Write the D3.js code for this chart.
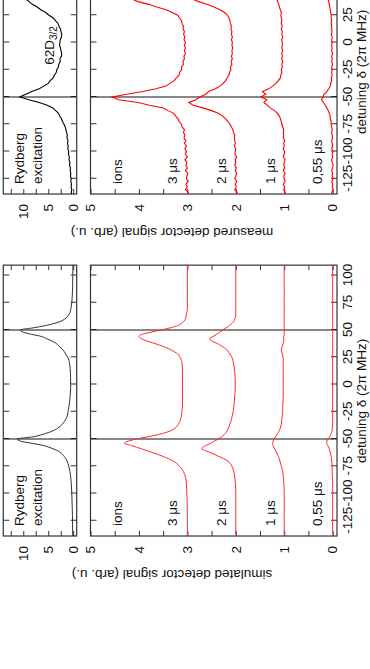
<!DOCTYPE html>
<html>
<head>
<meta charset="utf-8">
<script src="https://cdn.jsdelivr.net/npm/d3@7"></script>
<style>
  body { margin: 0; background: #fff; }
  svg { display: block; font-family: "Liberation Sans", Arial, sans-serif; }
</style>
</head>
<body>
<svg width="370" height="669"></svg>
<script>
// ---- simulated traces (smooth) ----
const simDetuning = [-140, -120, -100, -90, -80, -75, -70, -66, -62, -59, -56, -54, -52, -50, -48, -46, -44, -42, -40, -36,
    -32, -28, -24, -20, -10, 0, 10, 20, 24, 28, 32, 35, 38, 40, 42, 44, 46, 48, 50, 52, 54, 56, 58, 60, 64, 70, 80, 90, 100, 110];
const simRydberg = [0.1, 0.15, 0.28, 0.4, 0.65, 0.9, 1.25, 1.8, 2.7, 4.0, 6.0, 8.2, 10.5, 11.2, 8.0, 6.3, 4.9, 3.8, 3.1, 2.1,
    1.5, 1.15, 1.0, 0.85, 0.6, 0.5, 0.55, 0.75, 1.0, 1.5, 2.1, 2.8, 3.5, 4.3, 5.3, 6.3, 8.3, 10.0, 10.6, 8.0,
    5.6, 3.8, 2.5, 1.7, 0.9, 0.45, 0.2, 0.12, 0.08, 0.05];
const sim3us = [3.0, 3.0, 3.01, 3.02, 3.08, 3.16, 3.3, 3.5, 3.75, 3.95, 4.15, 4.3, 4.22, 4.05, 3.82, 3.6, 3.44, 3.32, 3.25, 3.18,
    3.14, 3.12, 3.11, 3.1, 3.1, 3.1, 3.1, 3.11, 3.14, 3.2, 3.35, 3.5, 3.7, 3.84, 3.95, 4.0, 3.94, 3.75, 3.55, 3.35,
    3.2, 3.12, 3.07, 3.04, 3.02, 3.0, 3.0, 3.0, 3.0, 3.0];
const sim2us = [2.0, 2.0, 2.0, 2.01, 2.04, 2.08, 2.17, 2.35, 2.55, 2.7, 2.62, 2.52, 2.44, 2.36, 2.29, 2.24, 2.2, 2.17, 2.15, 2.12,
    2.09, 2.07, 2.05, 2.04, 2.02, 2.01, 2.02, 2.05, 2.07, 2.12, 2.19, 2.28, 2.4, 2.5, 2.54, 2.47, 2.4, 2.33, 2.27, 2.2,
    2.13, 2.08, 2.04, 2.02, 2.0, 2.0, 2.0, 2.0, 2.0, 2.0];
const sim1us = [1.0, 1.0, 1.0, 1.01, 1.03, 1.06, 1.09, 1.12, 1.16, 1.2, 1.23, 1.24, 1.23, 1.21, 1.18, 1.15, 1.12, 1.1, 1.08, 1.06,
    1.05, 1.04, 1.03, 1.03, 1.02, 1.02, 1.02, 1.02, 1.02, 1.04, 1.06, 1.04, 1.02, 1.01, 1.01, 1.01, 1.0, 1.0, 1.0, 1.0,
    1.0, 1.0, 1.0, 1.0, 1.0, 1.0, 1.0, 1.0, 1.0, 1.0];
const sim055us = [0, 0, 0, 0, 0.01, 0.01, 0.02, 0.03, 0.05, 0.07, 0.1, 0.12, 0.12, 0.1, 0.06, 0.04, 0.02, 0.01, 0.01, 0,
    0, 0, 0, 0, 0, 0, 0, 0, 0, 0, 0, 0, 0, 0, 0, 0, 0, 0, 0, 0,
    0, 0, 0, 0, 0, 0, 0, 0, 0, 0];

const measDetuning = [-140, -137.5, -135, -132.5, -130, -127.5, -125, -122.5, -120, -117.5, -115, -112.5, -110, -107.5, -105, -102.5,
    -100, -97.5, -95, -92.5, -90, -87.5, -85, -82.5, -80, -77.5, -75, -72.5, -70, -67.5, -65, -62.5, -60, -57.5, -55, -52.5,
    -50, -47.5, -45, -42.5, -40, -37.5, -35, -32.5, -30, -27.5, -25, -22.5, -20, -17.5, -15, -12.5, -10, -7.5, -5, -2.5,
    0, 2.5, 5, 7.5, 10, 12.5, 15, 17.5, 20, 22.5, 25, 27.5, 30, 32.5, 35, 37.5, 40];
const measRydberg = [0.3, 0.38, 0.28, 0.42, 0.35, 0.48, 0.4, 0.55, 0.47, 0.62, 0.56, 0.74, 0.66, 0.85, 0.78, 0.95,
    0.9, 1.08, 1.0, 1.15, 1.05, 1.25, 1.18, 1.35, 1.45, 1.6, 1.85, 2.15, 2.35, 2.7, 2.95, 3.5, 4.1, 5.2, 6.8, 8.9,
    10.7, 9.5, 8.3, 6.8, 5.9, 5.0, 4.6, 4.0, 3.8, 3.4, 3.3, 2.95, 2.9, 2.6, 2.65, 2.35, 2.3, 2.45, 2.55, 2.75,
    2.65, 2.6, 2.35, 2.3, 2.45, 2.55, 2.85, 3.05, 3.55, 4.0, 4.85, 5.5, 6.5, 7.2, 8.2, 8.8, 9.6];
const meas3us = [3.02, 2.98, 3.04, 3.0, 3.03, 2.98, 3.02, 3.01, 2.99, 3.04, 3.0, 3.03, 3.01, 3.05, 3.0, 3.04,
    3.02, 3.05, 3.02, 3.06, 3.03, 3.07, 3.05, 3.08, 3.06, 3.11, 3.12, 3.17, 3.19, 3.24, 3.28, 3.4, 3.5, 3.78, 4.02, 4.42,
    4.55, 4.25, 3.92, 3.65, 3.44, 3.36, 3.27, 3.23, 3.17, 3.16, 3.12, 3.12, 3.08, 3.09, 3.06, 3.07, 3.04, 3.06, 3.04, 3.06,
    3.04, 3.07, 3.05, 3.08, 3.06, 3.09, 3.08, 3.11, 3.12, 3.16, 3.2, 3.31, 3.44, 3.63, 3.8, 4.02, 4.15];
const meas2us = [2.0, 1.97, 2.02, 1.99, 2.01, 1.98, 2.02, 2.0, 1.98, 2.01, 1.99, 2.02, 2.0, 2.01, 1.98, 2.02,
    2.01, 2.0, 2.03, 2.01, 2.02, 2.03, 2.02, 2.05, 2.06, 2.09, 2.12, 2.16, 2.21, 2.27, 2.36, 2.5, 2.68, 2.88, 2.97, 2.82,
    2.75, 2.62, 2.56, 2.42, 2.33, 2.26, 2.21, 2.18, 2.14, 2.13, 2.1, 2.11, 2.08, 2.1, 2.07, 2.09, 2.07, 2.08, 2.06, 2.08,
    2.07, 2.09, 2.07, 2.09, 2.08, 2.1, 2.09, 2.11, 2.12, 2.14, 2.17, 2.23, 2.33, 2.45, 2.6, 2.77, 2.9];
const meas1us = [1.0, 0.98, 1.01, 0.99, 1.02, 0.98, 1.0, 1.01, 0.98, 1.02, 0.99, 1.01, 1.0, 0.98, 1.02, 1.0,
    0.99, 1.02, 1.0, 1.01, 0.99, 1.02, 1.01, 1.02, 1.01, 1.03, 1.05, 1.06, 1.08, 1.1, 1.14, 1.2, 1.29, 1.35, 1.42, 1.36,
    1.48, 1.38, 1.45, 1.32, 1.24, 1.17, 1.12, 1.08, 1.07, 1.05, 1.06, 1.04, 1.05, 1.03, 1.05, 1.04, 1.05, 1.03, 1.05, 1.04,
    1.04, 1.05, 1.03, 1.05, 1.04, 1.06, 1.04, 1.06, 1.05, 1.06, 1.07, 1.06, 1.08, 1.1, 1.11, 1.14, 1.15];
const meas055us = [0.0, 0.02, -0.01, 0.01, 0.0, 0.02, -0.01, 0.01, 0.0, 0.02, 0.0, -0.01, 0.01, 0.02, 0.0, 0.01,
    -0.01, 0.02, 0.0, 0.01, 0.02, 0.0, 0.01, 0.02, 0.01, 0.02, 0.03, 0.03, 0.05, 0.05, 0.07, 0.09, 0.12, 0.15, 0.19, 0.23,
    0.2, 0.18, 0.12, 0.08, 0.05, 0.04, 0.02, 0.03, 0.01, 0.02, 0.01, 0.02, 0.0, 0.02, 0.01, 0.02, 0.0, 0.02, 0.01, 0.02,
    0.01, 0.02, 0.01, 0.03, 0.01, 0.02, 0.02, 0.03, 0.02, 0.03, 0.03, 0.04, 0.05, 0.06, 0.07, 0.08, 0.1];

// ---- axes / labels ----
const detuningTicks = [-125, -100, -75, -50, -25, 0, 25, 50, 75, 100];
const markerLines = [-50, 50];
const rydTicks = [0, 2.5, 5, 7.5, 10, 12.5];
const ionTicks = [0, 0.5, 1, 1.5, 2, 2.5, 3, 3.5, 4, 4.5, 5];
const seriesLabels = ['3 μs', '2 μs', '1 μs', '0,55 μs'];

const svg = d3.select('svg');
const pxPerMHz = 1.09;
const detDomain = [-139, 109.5];
const fontSize = 13.5;

// everything is drawn in the un-rotated frame and then turned 90 degrees
const xScale = d3.scaleLinear().domain(detDomain).range(detDomain.map(d => d * pxPerMHz));
const yRyd = d3.scaleLinear().domain([-0.7, 14]).range([76.7, 3.3]);
const yIon = d3.scaleLinear().domain([-0.09, 5.0]).range([337, 90.5]);
const x0 = xScale(detDomain[0]);
const x1 = xScale(detDomain[1]);

function drawPanel(g, id, yScale, detLabelMax, tickFmt) {
    const top = yScale.range()[1];
    const bottom = yScale.range()[0];

    g.append('clipPath').attr('id', id)
        .append('rect')
        .attr('x', x0).attr('y', top)
        .attr('width', x1 - x0).attr('height', bottom - top);

    const styleAxis = sel => {
        sel.select('.domain').remove();
        sel.selectAll('line').attr('stroke', '#333');
        sel.attr('font-size', fontSize).attr('font-family', null);
        sel.selectAll('text').attr('fill', '#111');
    };

    // detuning ticks (both edges); labels only below the ions panel
    g.append('g')
        .attr('transform', `translate(0, ${bottom})`)
        .call(d3.axisBottom(xScale).tickValues(detuningTicks).tickSizeInner(-6).tickSizeOuter(0)
            .tickPadding(5).tickFormat(d => (d <= detLabelMax ? d : '')))
        .call(styleAxis);
    g.append('g')
        .attr('transform', `translate(0, ${top})`)
        .call(d3.axisTop(xScale).tickValues(detuningTicks).tickSizeInner(-6).tickSizeOuter(0).tickFormat(''))
        .call(styleAxis);

    // signal ticks (both edges)
    const sTicks = yScale === yRyd ? rydTicks : ionTicks;
    g.append('g')
        .attr('transform', `translate(${x0}, 0)`)
        .call(d3.axisLeft(yScale).tickValues(sTicks)
            .tickSizeInner(-5).tickSizeOuter(0).tickPadding(10).tickFormat(tickFmt))
        .call(styleAxis);
    g.append('g')
        .attr('transform', `translate(${x1}, 0)`)
        .call(d3.axisRight(yScale).tickValues(sTicks)
            .tickSizeInner(-5).tickSizeOuter(0).tickFormat(''))
        .call(styleAxis);

    // resonance markers at +-50 MHz
    g.selectAll(null)
        .data(markerLines)
        .join('line')
        .attr('x1', d => xScale(d)).attr('x2', d => xScale(d))
        .attr('y1', top).attr('y2', bottom)
        .attr('stroke', '#111')
        .attr('stroke-width', 1.2);

    // frame
    g.append('rect')
        .attr('x', x0).attr('y', top)
        .attr('width', x1 - x0).attr('height', bottom - top)
        .attr('fill', 'none')
        .attr('stroke', '#333')
        .attr('stroke-width', 1.2);
}

function drawFigure(cfg) {
    const g = svg.append('g').attr('transform', `translate(0, ${cfg.offset}) rotate(-90)`);

    drawPanel(g, cfg.id + '-ryd', yRyd, -Infinity, d => (d % 5 === 0 ? d : ''));
    drawPanel(g, cfg.id + '-ion', yIon, cfg.detLabelMax, d => (Number.isInteger(d) ? d : ''));

    const rydLine = d3.line()
        .x(d => xScale(d[0]))
        .y(d => yRyd(d[1]))
        .curve(cfg.curve);
    const ionLine = d3.line()
        .x(d => xScale(d[0]))
        .y(d => yIon(d[1]))
        .curve(cfg.curve);

    g.append('path')
        .datum(d3.zip(cfg.detuning, cfg.rydberg))
        .attr('clip-path', `url(#${cfg.id}-ryd)`)
        .attr('d', rydLine)
        .attr('fill', 'none')
        .attr('stroke', cfg.rydColor)
        .attr('stroke-width', cfg.width);

    g.selectAll(null)
        .data(cfg.ions)
        .join('path')
        .attr('clip-path', `url(#${cfg.id}-ion)`)
        .attr('d', s => ionLine(d3.zip(cfg.detuning, s)))
        .attr('fill', 'none')
        .attr('stroke', cfg.ionColor)
        .attr('stroke-width', cfg.width);

    // in-panel texts
    const tx = x0 + 10;
    const note = g.append('g').attr('font-size', fontSize).attr('fill', '#111');
    note.append('text').attr('x', tx).attr('y', 23.5).text('Rydberg');
    note.append('text').attr('x', tx).attr('y', 41.5).text('excitation');
    note.append('text').attr('x', tx).attr('y', 121.5).text('ions');
    const labelBaselines = [176.5, 226, 274.5, 321.5];
    note.selectAll(null)
        .data(seriesLabels)
        .join('text')
        .attr('x', tx)
        .attr('y', (d, i) => labelBaselines[i])
        .text(d => d);

    if (cfg.stateLabel) {
        const t = note.append('text').attr('x', xScale(-20.5)).attr('y', 53.5);
        t.append('tspan').text('62D');
        t.append('tspan').attr('font-size', 10).attr('dy', 3).text('3/2');
    }

    // axis titles
    g.append('text')
        .attr('transform', `translate(${x0 - 38}, 172) rotate(-90)`)
        .attr('text-anchor', 'middle')
        .attr('dominant-baseline', 'central')
        .attr('font-size', fontSize)
        .attr('fill', '#111')
        .text(cfg.title);
    g.append('text')
        .attr('x', xScale(cfg.detTitleAt))
        .attr('y', 361)
        .attr('text-anchor', 'middle')
        .attr('dominant-baseline', 'central')
        .attr('font-size', fontSize)
        .attr('fill', '#111')
        .text('detuning δ (2π MHz)');
}

drawFigure({
    id: 'meas',
    offset: 42.5,
    title: 'measured detector signal (arb. u.)',
    detuning: measDetuning,
    rydberg: measRydberg,
    ions: [meas3us, meas2us, meas1us, meas055us],
    curve: d3.curveLinear,
    rydColor: '#000',
    ionColor: '#ff0000',
    width: 1.1,
    detLabelMax: 25,
    detTitleAt: -27,
    stateLabel: true
});

drawFigure({
    id: 'sim',
    offset: 384.5,
    title: 'simulated detector signal (arb. u.)',
    detuning: simDetuning,
    rydberg: simRydberg,
    ions: [sim3us, sim2us, sim1us, sim055us],
    curve: d3.curveMonotoneX,
    rydColor: '#333',
    ionColor: '#ff2a2a',
    width: 1,
    detLabelMax: 100,
    detTitleAt: -15,
    stateLabel: false
});
</script>
</body>
</html>
